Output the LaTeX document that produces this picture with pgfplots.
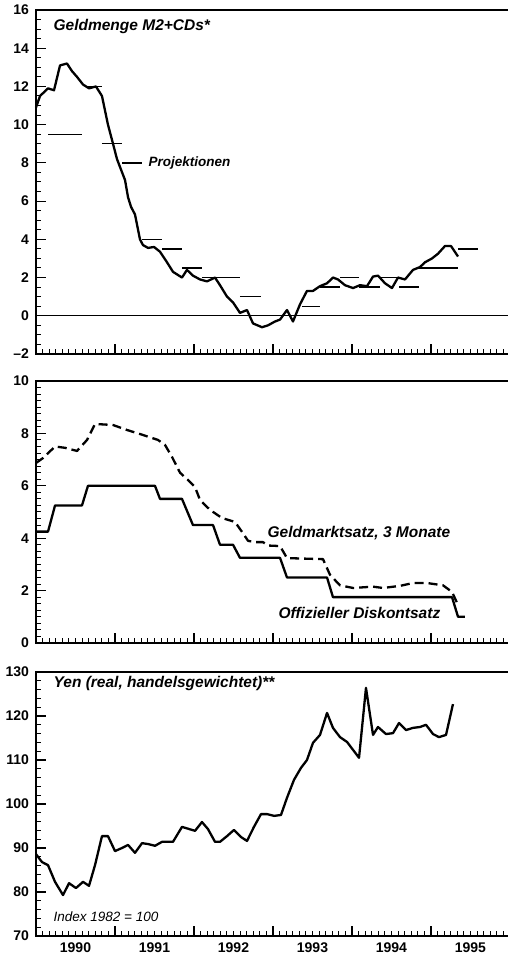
\documentclass[border=0pt]{standalone}
\usepackage{fontspec}
\setmainfont{Liberation Sans}
\usepackage{pgfplots}
\pgfplotsset{compat=1.18}
\newcommand\lab{\fontsize{15.5}{17}\selectfont\bfseries\itshape}
\newcommand\tickf{\fontsize{14}{16}\selectfont\bfseries}
% month ticks along the bottom (72 months from 1990 to 1996)
\newcommand\xticksmanual{%
  \pgfplotsinvokeforeach{1,...,71}{%
    \pgfmathsetmacro\rr{##1/72}%
    \pgfmathtruncatemacro\mm{mod(##1,12)}%
    \ifnum\mm=0 \def\tlen{10pt}\else\def\tlen{5pt}\fi
    \edef\tmp{\noexpand\draw[black, line width=1pt] (rel axis cs:\rr,0) -- ++(0pt,\tlen);}\tmp}}
% #1 last index, #2 number of intervals, #3 intervals per major tick
\newcommand\yticksmanual[3]{%
  \pgfplotsinvokeforeach{1,...,#1}{%
    \pgfmathsetmacro\rr{##1/#2}%
    \pgfmathtruncatemacro\mm{mod(##1,#3)}%
    \ifnum\mm=0 \def\tlen{10pt}\else\def\tlen{5pt}\fi
    \edef\tmp{\noexpand\draw[black, line width=1pt] (rel axis cs:0,\rr) -- ++(\tlen,0pt);}\tmp}}
\pgfplotsset{
  panel/.style={
    scale only axis, width=474pt, xmin=1990, xmax=1996,
    every axis/.append style={line width=1.3pt},
    xtick pos=left, ytick pos=left,
    tick align=inside, major tick length=10pt, minor tick length=5pt,
    major tick style={black, line width=1.2pt},
    minor tick style={black, line width=1pt},
    xtick={1990,...,1995},
    xticklabels={},
    yticklabel style={font=\tickf, xshift=-3pt},
    /pgf/number format/assume math mode=true,
    clip=false,
    anchor=north west,
  },
  dataline/.style={black, line width=2.3pt, line join=round},
}
\begin{document}
\begin{tikzpicture}
\path[use as bounding box] (0,0) rectangle (508pt,959pt);

% ---------------- Panel 1 ----------------
\begin{axis}[panel, at={(36pt,949pt)}, height=344pt,
  ymin=-2, ymax=16, ytick={-2,0,...,16},
  yticklabels={\textendash2,0,2,4,6,8,10,12,14,16}]
\xticksmanual
\yticksmanual{35}{36}{4}
\addplot[black, line width=1.3pt] coordinates {(1990,0) (1996,0)};
\addplot[black, line width=1.3pt, unbounded coords=jump] coordinates {
(1990.152,9.5) (1990.582,9.5) (1990.6,nan)
(1990.620,12.0) (1990.835,12.0) (1990.84,nan)
(1990.835,9.0) (1991.089,9.0) (1991.1,nan)
(1991.342,4.0) (1991.595,4.0) (1991.6,nan)
(1991.595,3.5) (1991.848,3.5) (1991.85,nan)
(1991.848,2.5) (1992.101,2.5) (1992.11,nan)
(1992.101,2.0) (1992.582,2.0) (1992.59,nan)
(1992.582,1.0) (1992.848,1.0) (1992.85,nan)
(1993.367,0.5) (1993.595,0.5) (1993.6,nan)
(1993.595,1.5) (1993.848,1.5) (1993.85,nan)
(1993.848,2.0) (1994.089,2.0) (1994.09,nan)
(1994.089,1.5) (1994.354,1.5) (1994.36,nan)
(1994.354,2.0) (1994.595,2.0) (1994.6,nan)
(1994.595,1.5) (1994.848,1.5) (1994.85,nan)
(1994.848,2.5) (1995.342,2.5) (1995.35,nan)
(1995.342,3.5) (1995.595,3.5)
};
\addplot[dataline] coordinates {
(1990.000,10.9) (1990.051,11.5) (1990.152,11.9) (1990.228,11.8) (1990.304,13.1)
(1990.392,13.2) (1990.456,12.8) (1990.519,12.5) (1990.595,12.1) (1990.671,11.9)
(1990.759,12.0) (1990.835,11.5) (1990.911,10.0) (1990.975,9.0) (1991.025,8.2)
(1991.127,7.1) (1991.165,6.2) (1991.203,5.7) (1991.253,5.3) (1991.316,4.0)
(1991.354,3.7) (1991.418,3.55) (1991.494,3.6) (1991.570,3.35) (1991.658,2.8)
(1991.734,2.3) (1991.848,2.0) (1991.911,2.4) (1991.987,2.1) (1992.076,1.9)
(1992.165,1.8) (1992.266,2.0) (1992.329,1.6) (1992.418,1.0) (1992.494,0.7)
(1992.582,0.15) (1992.671,0.3) (1992.747,-0.4) (1992.861,-0.6) (1992.937,-0.5)
(1993.025,-0.3) (1993.089,-0.2) (1993.177,0.3) (1993.253,-0.3) (1993.342,0.6)
(1993.430,1.3) (1993.506,1.3) (1993.595,1.55) (1993.684,1.7) (1993.759,2.0)
(1993.823,1.9) (1993.911,1.6) (1994.013,1.45) (1994.101,1.6) (1994.190,1.55)
(1994.266,2.05) (1994.329,2.1) (1994.418,1.7) (1994.506,1.45) (1994.582,2.0)
(1994.671,1.9) (1994.772,2.4) (1994.861,2.55) (1994.924,2.8) (1995.013,3.0)
(1995.089,3.25) (1995.177,3.65) (1995.253,3.65) (1995.342,3.1)
};
\node[anchor=west, inner sep=0pt, font=\lab] at (axis cs:1990.215,15.16) {Geldmenge M2+CDs*};
\draw[line width=1.3pt] (axis cs:1991.089,8) -- (axis cs:1991.342,8);
\node[anchor=west, inner sep=0pt, font=\fontsize{13.5}{15}\selectfont\bfseries\itshape] at (axis cs:1991.418,8) {Projektionen};
\end{axis}

% ---------------- Panel 2 ----------------
\begin{axis}[panel, at={(36pt,578pt)}, height=262pt,
  ymin=0, ymax=10, ytick={0,2,...,10}]
\xticksmanual
\yticksmanual{39}{40}{8}
\addplot[dataline, dash pattern=on 9pt off 5pt] coordinates {
(1990.000,6.87) (1990.089,7.06) (1990.241,7.5) (1990.367,7.45) (1990.519,7.33)
(1990.646,7.75) (1990.747,8.36) (1990.975,8.32) (1991.152,8.13) (1991.354,7.94)
(1991.544,7.75) (1991.633,7.56) (1991.722,7.1) (1991.823,6.5) (1991.949,6.15)
(1992.013,5.95) (1992.076,5.46) (1992.203,5.08) (1992.354,4.77) (1992.519,4.62)
(1992.608,4.24) (1992.684,3.9) (1992.772,3.85) (1992.873,3.85) (1992.937,3.72)
(1993.089,3.7) (1993.177,3.24) (1993.633,3.2) (1993.722,2.6) (1993.848,2.2)
(1994.013,2.1) (1994.266,2.15) (1994.392,2.1) (1994.608,2.18) (1994.772,2.29)
(1994.949,2.29) (1995.152,2.2) (1995.266,1.95) (1995.342,1.45)
};
\addplot[dataline] coordinates {
(1990.000,4.25) (1990.152,4.25) (1990.241,5.25) (1990.582,5.25) (1990.658,6.0)
(1991.506,6.0) (1991.570,5.5) (1991.848,5.5) (1991.987,4.5) (1992.241,4.5)
(1992.329,3.75) (1992.494,3.75) (1992.582,3.25) (1993.089,3.25) (1993.177,2.5)
(1993.684,2.5) (1993.759,1.75) (1995.266,1.75) (1995.342,1.0) (1995.430,1.0)
};
\node[anchor=west, inner sep=0pt, font=\lab] at (axis cs:1992.924,4.2) {Geldmarktsatz, 3 Monate};
\node[anchor=west, inner sep=0pt, font=\lab] at (axis cs:1993.063,1.15) {Offizieller Diskontsatz};
\end{axis}

% ---------------- Panel 3 ----------------
\begin{axis}[panel, at={(36pt,287pt)}, height=264pt,
  ymin=70, ymax=130, ytick={70,80,...,130},
  xticklabels={1990,1991,1992,1993,1994,1995},
  xticklabel style={font=\tickf, xshift=39.5pt, yshift=-3pt}]
\xticksmanual
\yticksmanual{29}{30}{5}
\addplot[dataline] coordinates {
(1990.000,88.6) (1990.076,86.8) (1990.152,86.1) (1990.241,82.3) (1990.342,79.3)
(1990.418,82.0) (1990.506,80.9) (1990.595,82.3) (1990.671,81.4) (1990.747,86.1)
(1990.835,92.7) (1990.911,92.7) (1991.000,89.3) (1991.089,90.0) (1991.165,90.7)
(1991.253,88.9) (1991.342,91.1) (1991.418,90.9) (1991.506,90.5) (1991.595,91.4)
(1991.734,91.4) (1991.848,94.8) (1992.013,93.9) (1992.101,95.9) (1992.177,94.3)
(1992.266,91.4) (1992.329,91.4) (1992.418,92.7) (1992.506,94.1) (1992.595,92.5)
(1992.671,91.6) (1992.759,94.8) (1992.848,97.7) (1992.924,97.7) (1993.013,97.3)
(1993.101,97.5) (1993.177,101.4) (1993.266,105.5) (1993.354,108.2) (1993.430,110.0)
(1993.506,113.9) (1993.595,115.7) (1993.684,120.7) (1993.759,117.3) (1993.848,115.2)
(1993.937,114.1) (1994.013,112.3) (1994.089,110.5) (1994.177,126.4) (1994.266,115.7)
(1994.329,117.5) (1994.430,115.9) (1994.519,116.1) (1994.595,118.4) (1994.684,116.8)
(1994.772,117.3) (1994.861,117.5) (1994.937,118.0) (1995.025,115.9) (1995.101,115.2)
(1995.190,115.7) (1995.278,122.7)
};
\node[anchor=west, inner sep=0pt, font=\lab] at (axis cs:1990.215,127.5) {Yen (real, handelsgewichtet)**};
\node[anchor=west, inner sep=0pt, font=\fontsize{13.5}{15}\selectfont\itshape] at (axis cs:1990.215,74.5) {Index 1982 = 100};
\end{axis}
\end{tikzpicture}
\end{document}
